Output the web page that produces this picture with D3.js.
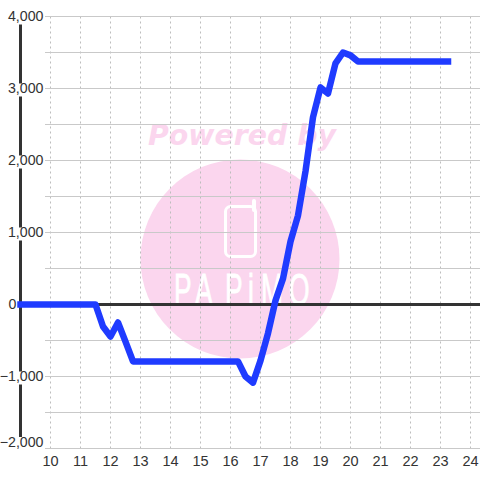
<!DOCTYPE html>
<html>
<head>
<meta charset="utf-8">
<script src="https://cdn.jsdelivr.net/npm/d3@7"></script>
<style>
html,body{margin:0;padding:0;background:#fff}
svg{display:block}
text{font-family:"Liberation Sans",Arial,sans-serif}
</style>
</head>
<body>
<svg id="c" width="480" height="480"></svg>
<script>
const hours = [9,9.25,9.5,9.75,10,10.25,10.5,10.75,11,11.25,11.5,11.75,12,12.25,12.5,12.75,13,13.25,13.5,13.75,14,14.25,14.5,14.75,15,15.25,15.5,15.75,16,16.25,16.5,16.75,17,17.25,17.5,17.75,18,18.25,18.5,18.75,19,19.25,19.5,19.75,20,20.25,20.5,20.75,21,21.25,21.5,21.75,22,22.25,22.5,22.75,23,23.25];
const values = [0,0,0,0,0,0,0,0,0,0,0,-305,-445,-250,-515,-790,-790,-790,-790,-790,-790,-790,-790,-790,-790,-790,-790,-790,-790,-790,-1000,-1085,-780,-400,55,360,875,1235,1850,2600,3015,2930,3350,3500,3460,3375,3375,3375,3375,3375,3375,3375,3375,3375,3375,3375,3375,3375];
const xTicks = [10,11,12,13,14,15,16,17,18,19,20,21,22,23,24];
const yGrid = [-2000,-1500,-1000,-500,0,500,1000,1500,2000,2500,3000,3500,4000];
const yLabels = [-2000,-1000,0,1000,2000,3000,4000];
const watermarkTop = "Powered by";
const watermarkBrand = "PAPiMO";

const svg = d3.select("#c");
const x = d3.scaleLinear().domain([9,25]).range([20.5,500.5]);
const y = d3.scaleLinear().domain([-2000,4000]).range([448.5,16.5]);
const pink = "#fbd6ee", ink = "#333333", gridCol = "#c9c9c9";

// watermark
const wm = svg.append("g");
wm.append("text").attr("x",148).attr("y",145).text(watermarkTop)
  .attr("textLength",188).attr("lengthAdjust","spacingAndGlyphs")
  .style("font-family","'DejaVu Sans'").style("font-weight",700).style("font-style","italic")
  .style("font-size","29px").attr("fill",pink);
wm.append("circle").attr("cx",240).attr("cy",259).attr("r",99.5).attr("fill",pink);
wm.append("rect").attr("x",225.5).attr("y",206.5).attr("width",30).attr("height",50).attr("rx",5)
  .attr("fill","none").attr("stroke","#fff").attr("stroke-width",3);
wm.append("line").attr("x1",254).attr("x2",254).attr("y1",201).attr("y2",210)
  .attr("stroke","#fff").attr("stroke-width",4).attr("stroke-linecap","round");
const brandX = [174,195,225,248,261,289];
const brandScale = 0.6;
wm.append("text").attr("y",305).attr("transform",`scale(${brandScale},1)`)
  .attr("x",brandX.map(v=>v/brandScale).join(" ")).text(watermarkBrand)
  .style("font-family","'Liberation Sans Narrow','Liberation Sans'").style("font-size","44px")
  .attr("fill","#fff").attr("stroke","#fff").attr("stroke-width",0.8);

// vertical dotted grid + bottom labels
const xAxis = svg.append("g").attr("transform","translate(0,448.5)")
  .call(d3.axisBottom(x).offset(0).tickValues(xTicks).tickFormat(d3.format("d")).tickSize(-432).tickPadding(7));
xAxis.select(".domain").remove();
xAxis.selectAll("line").attr("stroke","#bdbdbd").attr("stroke-dasharray","2,3");
xAxis.selectAll("text").style("font-size","14.5px").attr("fill",ink);

// horizontal grid
const yGridG = svg.append("g").attr("transform","translate(480,0)")
  .call(d3.axisLeft(y).offset(0).tickValues(yGrid).tickSize(435).tickFormat(""));
yGridG.select(".domain").remove();
yGridG.selectAll("line").attr("stroke",gridCol).attr("stroke-width",1);

// axis lines
svg.append("line").attr("x1",x(9)).attr("x2",x(9)).attr("y1",y(4000)).attr("y2",y(-2000))
  .attr("stroke",ink).attr("stroke-width",3);
svg.append("line").attr("x1",19).attr("x2",480).attr("y1",y(0)).attr("y2",y(0))
  .attr("stroke",ink).attr("stroke-width",3);

// y labels with white backing
const yAxis = svg.append("g").attr("transform","translate(43.5,0)")
  .call(d3.axisLeft(y).offset(0).tickValues(yLabels).tickSize(0).tickPadding(0).tickFormat(d3.format(",")));
yAxis.select(".domain").remove();
yAxis.selectAll("text").style("font-size","14.2px").attr("fill",ink);
yAxis.selectAll(".tick").filter(d=>d===0).select("text").attr("transform","translate(-27,0)");
yAxis.selectAll(".tick").filter(d=>d===-2000).select("text").attr("transform","translate(0,-6.5)");
yAxis.selectAll(".tick").filter(d=>d!==0).each(function(){
  const t = d3.select(this).select("text");
  const b = this.querySelector("text").getBBox();
  d3.select(this).insert("rect","text")
    .attr("x",b.x).attr("y",-5).attr("width",b.width).attr("height",13)
    .attr("transform",t.attr("transform"))
    .attr("fill","#fff");
});

// series
const line = d3.line().x((d,i)=>x(hours[i])).y(d=>y(d));
svg.append("path").datum(values).attr("d",line)
  .attr("fill","none").attr("stroke","#1f3bff").attr("stroke-width",6.5)
  .attr("stroke-linejoin","round").attr("stroke-linecap","square");
</script>
</body>
</html>
